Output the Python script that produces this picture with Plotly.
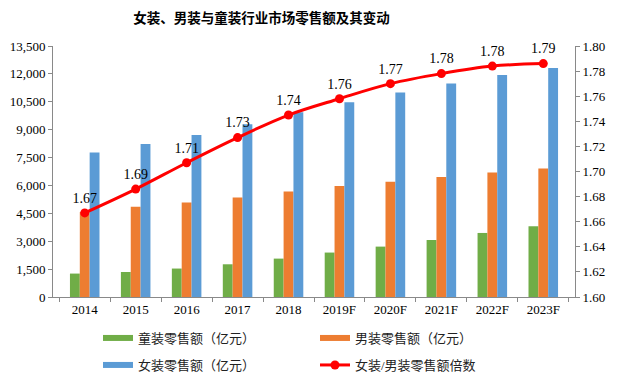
import plotly.graph_objects as go

years = ["2014", "2015", "2016", "2017", "2018", "2019F", "2020F", "2021F", "2022F", "2023F"]
kids = [1260, 1345, 1530, 1760, 2065, 2390, 2710, 3065, 3445, 3805]
men = [4570, 4860, 5080, 5345, 5670, 5970, 6205, 6455, 6690, 6905]
women = [7770, 8230, 8715, 9290, 9935, 10475, 10995, 11480, 11940, 12320]
ratio = [1.667, 1.686, 1.707, 1.727, 1.745, 1.758, 1.770, 1.778, 1.784, 1.786]
ratio_labels = ["1.67", "1.69", "1.71", "1.73", "1.74", "1.76", "1.77", "1.78", "1.78", "1.79"]

names = ["童装零售额（亿元）", "男装零售额（亿元）", "女装零售额（亿元）", "女装/男装零售额倍数"]
colors = ["#70AD47", "#ED7D31", "#5B9BD5", "#FF0000"]

SERIF = "'Liberation Serif', 'Noto Sans CJK SC'"

# the page body adds an 8px offset, so the figure is laid out 8px up/left
OFF = 8
W, H = 622 - OFF, 390 - OFF

fig = go.Figure()
for vals, nm, col in zip([kids, men, women], names[:3], colors[:3]):
    fig.add_trace(go.Bar(x=years, y=vals, name=nm, marker=dict(color=col, line=dict(width=0)),
                         showlegend=False, legendgroup=nm))

fig.add_trace(go.Scatter(x=years, y=ratio, name=names[3], yaxis="y2", mode="lines+markers+text",
                         line=dict(color=colors[3], width=3, shape="spline"),
                         marker=dict(color=colors[3], size=9),
                         text=ratio_labels, textposition="top center",
                         textfont=dict(family=SERIF, size=14, color="#000000"),
                         cliponaxis=False,
                         showlegend=False, legendgroup=names[3]))

# legend entries, one small legend per item (2 x 2 grid)
legend_ids = ["legend", "legend2", "legend3", "legend4"]
for i, (nm, col) in enumerate(zip(names, colors)):
    if i < 3:
        fig.add_trace(go.Scatter(x=[None], y=[None], mode="lines", name=nm,
                                 line=dict(color=col, width=6), legend=legend_ids[i],
                                 legendgroup=nm))
    else:
        fig.add_trace(go.Scatter(x=[None], y=[None], mode="lines+markers", name=nm, yaxis="y2",
                                 line=dict(color=col, width=3), marker=dict(color=col, size=9),
                                 legend=legend_ids[i], legendgroup=nm))

legend_common = dict(orientation="h", xanchor="left", yanchor="middle",
                     xref="container", yref="container",
                     font=dict(family=SERIF, size=13, color="#222222"),
                     bgcolor="rgba(0,0,0,0)", itemclick=False, itemdoubleclick=False)

col_x = [98 - OFF, 315 - OFF]
row_y = [338 - OFF, 365 - OFF]

axis_font = dict(family=SERIF, size=13, color="#000000")

fig.update_layout(
    width=W, height=H,
    margin=dict(l=53 - OFF, r=47, t=46 - OFF, b=93, autoexpand=False),
    paper_bgcolor="white", plot_bgcolor="white",
    barmode="group", bargap=0.42, bargroupgap=0,
    title=dict(text="<b>女装、男装与童装行业市场零售额及其变动</b>",
               font=dict(family="Noto Sans CJK SC", size=13.5, color="#000000"),
               x=(261.5 - OFF) / W, xanchor="center", xref="container",
               y=1 - (18 - OFF) / H, yanchor="middle", yref="container"),
    xaxis=dict(type="category", showline=True, linecolor="#898989", linewidth=1,
               ticks="outside", tickson="boundaries", ticklen=4, tickcolor="#898989",
               tickfont=axis_font, showgrid=False, automargin=False),
    yaxis=dict(range=[0, 13500], dtick=1500, tickformat=",d", showline=True,
               linecolor="#898989", linewidth=1, ticks="outside", ticklen=4, tickcolor="#898989",
               tickfont=axis_font, showgrid=False, zeroline=False, automargin=False),
    yaxis2=dict(range=[1.60, 1.80], dtick=0.02, tickformat=".2f", overlaying="y", side="right",
                showline=True, linecolor="#898989", linewidth=1, ticks="outside", ticklen=4,
                tickcolor="#898989", tickfont=axis_font,
                showgrid=False, zeroline=False, automargin=False),
    legend=dict(x=col_x[0] / W, y=1 - row_y[0] / H, **legend_common),
    legend2=dict(x=col_x[1] / W, y=1 - row_y[0] / H, **legend_common),
    legend3=dict(x=col_x[0] / W, y=1 - row_y[1] / H, **legend_common),
    legend4=dict(x=col_x[1] / W, y=1 - row_y[1] / H, **legend_common),
)

fig.write_html("out.html")
